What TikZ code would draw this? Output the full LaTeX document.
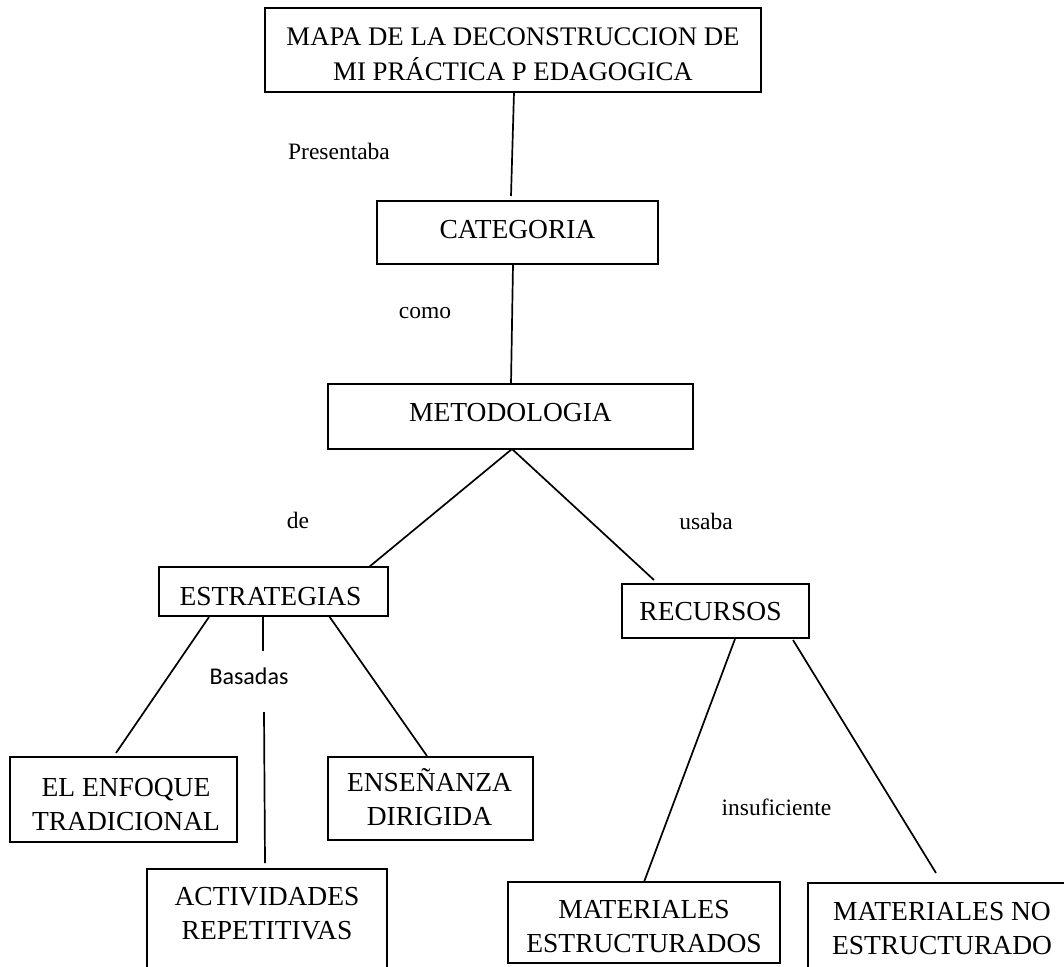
\documentclass[tikz,border=0pt]{standalone}
\usepackage{fontspec}
\setmainfont{Liberation Serif}
\newfontfamily\calibri{Carlito}
\begin{document}
\begin{tikzpicture}[x=1pt,y=-1pt,
  box/.style={draw, rectangle, line width=2pt, inner sep=0pt, outer sep=0pt},
  btext/.style={inner sep=0pt, anchor=north, align=center, font=\fontsize{27.5}{34.5}\selectfont},
  lbl/.style={inner sep=0pt, anchor=base, font=\fontsize{23.5}{28}\selectfont},
  conn/.style={line width=1.7pt}]
\useasboundingbox (0,0) rectangle (1064,966);
\fill[white] (0,0) rectangle (1064,966);
\clip (0,0) rectangle (1064,966);
% boxes
\node[box, minimum width=496pt, minimum height=84pt] (title) at (513,50) {};
\node[box, minimum width=281pt, minimum height=63pt] (cat) at (517.5,232.5) {};
\node[box, minimum width=365pt, minimum height=65pt] (meto) at (510.5,416.5) {};
\node[box, minimum width=229pt, minimum height=49pt] (estr) at (273.5,591.5) {};
\node[box, minimum width=187pt, minimum height=54pt] (rec) at (715.5,611) {};
\node[box, minimum width=227pt, minimum height=85pt] (enf) at (123.5,799.5) {};
\node[box, minimum width=205pt, minimum height=83pt] (ens) at (430.5,798.5) {};
\node[box, minimum width=240pt, minimum height=121pt] (act) at (267,929.5) {};
\node[box, minimum width=272pt, minimum height=81pt] (mat1) at (644,922.5) {};
\node[box, minimum width=272pt, minimum height=97pt] (mat2) at (944,931.5) {};
% box texts
\node[btext, font=\fontsize{26.8}{34.5}\selectfont] (t-title) at (513,28) {MAPA DE LA DECONSTRUCCION DE\\MI PRÁCTICA P EDAGOGICA};
\node[btext] (t-cat) at (517.5,220) {CATEGORIA};
\node[btext] (t-meto) at (510.5,403) {METODOLOGIA};
\node[btext] (t-estr) at (270.5,587) {ESTRATEGIAS};
\node[btext] (t-rec) at (710.5,602) {RECURSOS};
\node[btext] (t-enf) at (126,778) {EL ENFOQUE\\TRADICIONAL};
\node[btext] (t-ens) at (429.5,768) {ENSEÑANZA\\DIRIGIDA};
\node[btext] (t-act) at (267,887) {ACTIVIDADES\\REPETITIVAS};
\node[btext] (t-mat1) at (644,900) {MATERIALES\\ESTRUCTURADOS};
\node[btext] (t-mat2) at (942,902) {MATERIALES NO\\ESTRUCTURADO};
% labels
\node[lbl] (l-pres) at (339,159) {Presentaba};
\node[lbl] (l-como) at (425,318) {como};
\node[lbl] (l-de) at (298,528) {de};
\node[lbl] (l-usaba) at (706,529) {usaba};
\node[lbl, font=\calibri\fontsize{24}{28}\selectfont] (l-bas) at (249,684) {Basadas};
\node[lbl] (l-insu) at (776.5,815) {insuficiente};
% connectors
\coordinate (b1) at (263,651);
\coordinate (b2) at (264,712);
\draw[conn] ([xshift=1pt]title.south) -- ([xshift=-6.5pt,yshift=5pt]cat.north);
\draw[conn] ([xshift=-4.5pt]cat.south) -- ([xshift=0.5pt]meto.north);
\draw[conn] ([xshift=1.5pt]meto.south) -- ([xshift=95.5pt]estr.north);
\draw[conn] ([xshift=1.5pt]meto.south) -- ([xshift=-61.5pt,yshift=4pt]rec.north);
\draw[conn] ([xshift=-64.5pt,yshift=-1pt]estr.south) -- ([xshift=-7.5pt,yshift=4pt]enf.north);
\draw[conn] ([xshift=-10.5pt]estr.south) -- (b1);
\draw[conn] (b2) -- ([xshift=-2pt,yshift=6pt]act.north);
\draw[conn] ([xshift=55.5pt]estr.south) -- ([xshift=-3.5pt,yshift=1pt]ens.north);
\draw[conn] ([xshift=19.5pt,yshift=-1pt]rec.south) -- (mat1.north);
\draw[conn] ([xshift=77.5pt,yshift=-2pt]rec.south) -- ([xshift=-8pt,yshift=10pt]mat2.north);
\end{tikzpicture}
\end{document}
